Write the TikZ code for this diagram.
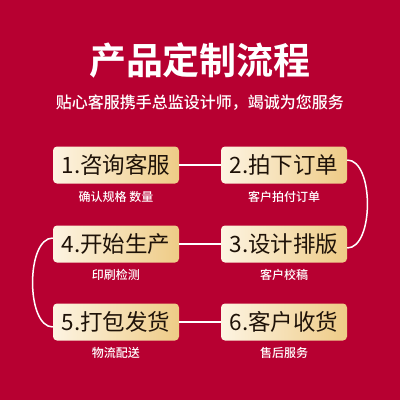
\documentclass[tikz,border=0pt]{standalone}
\usepackage{fontspec}
\newfontfamily\cjk{Noto Sans CJK SC}
\newfontfamily\cjkm{Noto Sans CJK SC Medium}
\newfontfamily\cjkb{Noto Sans CJK SC Bold}
\definecolor{bgred}{HTML}{B70031}
\definecolor{goldL}{HTML}{FDF4E2}
\definecolor{goldR}{HTML}{EECB86}
\definecolor{txt}{HTML}{1E1208}
\begin{document}
\begin{tikzpicture}[x=1pt,y=-1pt,
  stepbox/.style={rounded corners=4pt, left color=goldL, right color=goldR, draw=none,
    minimum width=126pt, minimum height=37pt, inner sep=0pt,
    font=\cjk\fontsize{22.5}{22}\selectfont, text=txt},
  subtxt/.style={font=\cjkm\fontsize{12}{12}\selectfont, text=white},
  link/.style={draw=white, line width=1.5pt}]
\fill[bgred] (0,0) rectangle (400,400);
\useasboundingbox (0,0) rectangle (400,400);
\node[text=white, font=\cjkb\fontsize{37}{40}\selectfont] (title) at (200,60) {产品定制流程};
\node[text=white, font=\cjkm\fontsize{16}{18}\selectfont] (sub) at (200,103) {贴心客服携手总监设计师，竭诚为您服务};

\node[stepbox] (s1) at (116,165) {1.咨询客服};
\node[stepbox] (s2) at (284,165) {2.拍下订单};
\node[stepbox] (s3) at (284,244) {3.设计排版};
\node[stepbox] (s4) at (116,244) {4.开始生产};
\node[stepbox] (s5) at (116,322) {5.打包发货};
\node[stepbox] (s6) at (284,322) {6.客户收货};

\node[subtxt] (t1) at (116,197) {确认规格 数量};
\node[subtxt] (t2) at (284,197) {客户拍付订单};
\node[subtxt] (t3) at (284,275) {客户校稿};
\node[subtxt] (t4) at (116,275) {印刷检测};
\node[subtxt] (t5) at (116,353) {物流配送};
\node[subtxt] (t6) at (284,353) {售后服务};

\draw[link] (s1.east) -- (s2.west);
\draw[link] (s3.west) -- (s4.east);
\draw[link] (s5.east) -- (s6.west);
\coordinate (a2) at ([yshift=5pt]s2.east);
\coordinate (a3) at ([yshift=-4pt]s3.east);
\draw[link] (a2) .. controls +(27,0) and +(27,0) .. (a3);
\coordinate (a4) at ([yshift=6pt]s4.west);
\coordinate (a5) at ([yshift=-5pt]s5.west);
\draw[link] (a4) .. controls +(-27,0) and +(-27,0) .. (a5);
\end{tikzpicture}
\end{document}
